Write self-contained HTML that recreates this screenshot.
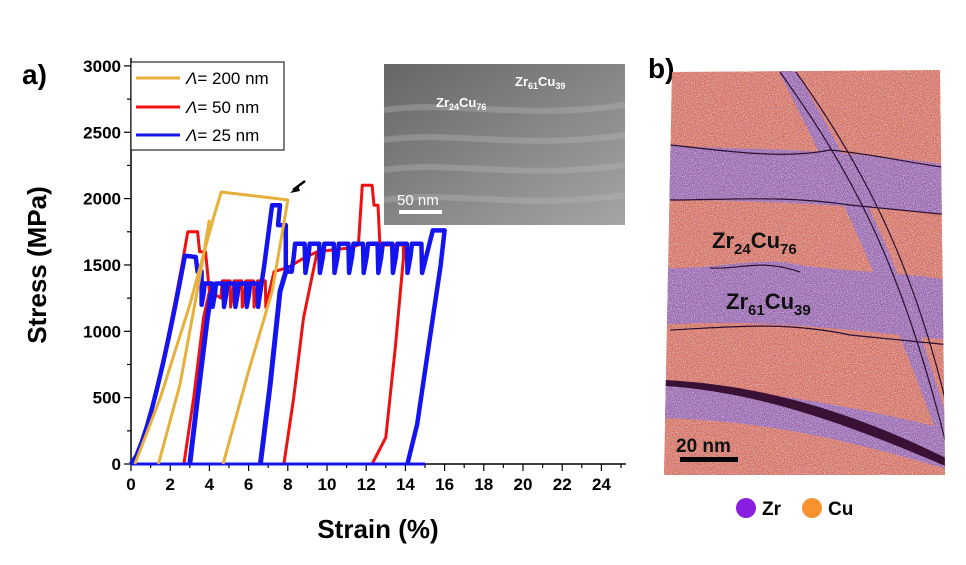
<!DOCTYPE html>
<html><head><meta charset="utf-8"><style>
body{margin:0;background:#fff;width:966px;height:560px;overflow:hidden}
svg{font-family:"Liberation Sans",Arial,sans-serif}
</style></head><body>
<svg id="s" width="966" height="560" viewBox="0 0 966 560">
<defs>
<filter id="noise" x="0" y="0" width="100%" height="100%">
<feTurbulence type="fractalNoise" baseFrequency="1.1" numOctaves="1" seed="3"/>
<feColorMatrix values="0 0 0 0 1  0 0 0 0 1  0 0 0 0 1  0 0 0 2.2 -0.85"/>
</filter>
<filter id="noise2" x="0" y="0" width="100%" height="100%">
<feTurbulence type="fractalNoise" baseFrequency="1.0" numOctaves="1" seed="7"/>
<feColorMatrix values="0 0 0 0 0.35  0 0 0 0 0.05  0 0 0 0 0.35  0 0 0 2.2 -0.9"/>
</filter>
<linearGradient id="gr" x1="0" y1="0" x2="1" y2="1"><stop offset="0" stop-color="#666"/><stop offset="1" stop-color="#a5a5a5"/></linearGradient>
<clipPath id="cp"><polygon points="672,72 940,70 945,475 664,475"/></clipPath>
</defs>
<text x="22" y="84" font-size="28" font-weight="bold">a)</text>
<text x="648" y="78" font-size="28" font-weight="bold">b)</text>
<g id="axes"></g>
<g id="curves" fill="none" stroke-linejoin="round"></g>
<rect x="131" y="62" width="153" height="88" fill="#fff" stroke="#000" stroke-width="1"/>
<line x1="136" y1="78" x2="180" y2="78" stroke="#e6b03a" stroke-width="3"/>
<line x1="136" y1="107" x2="180" y2="107" stroke="#f01010" stroke-width="3"/>
<line x1="136" y1="135" x2="180" y2="135" stroke="#1414f0" stroke-width="3"/>
<g font-size="17"><text x="186" y="84"><tspan font-style="italic">Λ</tspan>= 200 nm</text>
<text x="186" y="113"><tspan font-style="italic">Λ</tspan>= 50 nm</text>
<text x="186" y="141"><tspan font-style="italic">Λ</tspan>= 25 nm</text></g>
<rect x="384" y="64" width="241" height="161" fill="url(#gr)"/>
<g fill="none" stroke="#bbb" stroke-width="6" opacity="0.35">
<path d="M384 110 C450 100 520 120 625 105"/><path d="M384 140 C450 130 520 150 625 135"/><path d="M384 170 C450 160 520 180 625 165"/><path d="M384 200 C450 190 520 210 625 195"/></g>
<text x="515" y="86" font-size="13" fill="#fff" font-weight="bold">Zr<tspan font-size="9" dy="3">61</tspan><tspan dy="-3">Cu</tspan><tspan font-size="9" dy="3">39</tspan></text>
<text x="436" y="107" font-size="13" fill="#fff" font-weight="bold">Zr<tspan font-size="9" dy="3">24</tspan><tspan dy="-3">Cu</tspan><tspan font-size="9" dy="3">76</tspan></text>
<text x="397" y="205" font-size="15" fill="#fff">50 nm</text>
<rect x="399" y="210" width="43" height="4" fill="#fff"/>
<path d="M305 181 L293 190" stroke="#000" stroke-width="2.5"/><path d="M290 193 L298 185 L300 191Z" fill="#000"/>
<g clip-path="url(#cp)">
<rect x="660" y="68" width="290" height="410" fill="#e27a48"/>
<path d="M660 145 C720 150 800 145 950 165 L950 215 C850 205 760 200 660 200Z" fill="#8e6cb0"/>
<path d="M660 268 C720 270 760 255 800 265 C850 272 900 272 950 280 L950 340 C850 330 760 318 660 325Z" fill="#8e6cb0"/>
<path d="M660 385 C760 390 850 405 950 430 L950 470 C850 440 760 420 660 418Z" fill="#8e6cb0"/>
<path d="M778 70 L795 70 C855 170 905 270 950 430 L950 470 C900 330 855 220 778 70Z" fill="#8e6cb0"/>
<rect x="660" y="68" width="290" height="410" filter="url(#noise)" opacity="0.9"/>
<rect x="660" y="68" width="290" height="410" filter="url(#noise2)" opacity="0.9"/>
<g fill="none" stroke="#2a1030" stroke-width="1.2">
<path d="M670 145 C720 150 780 160 830 150 C880 155 920 165 950 168"/>
<path d="M670 200 C730 200 780 195 850 205 L950 215"/>
<path d="M710 268 C740 270 760 258 800 272"/>
<path d="M670 330 C720 328 780 320 850 335 L950 345"/>
<path d="M780 72 C850 170 900 260 945 440"/>
<path d="M796 72 C866 170 916 270 950 420"/>
</g>
<path d="M665 380 C760 385 850 410 950 460 L950 468 C850 425 760 392 665 386Z" fill="#3a1035"/>
</g>
<text x="712" y="248" font-size="22" font-weight="bold" fill="#111">Zr<tspan font-size="15" dy="6">24</tspan><tspan dy="-6">Cu</tspan><tspan font-size="15" dy="6">76</tspan></text>
<text x="726" y="309" font-size="22" font-weight="bold" fill="#111">Zr<tspan font-size="15" dy="6">61</tspan><tspan dy="-6">Cu</tspan><tspan font-size="15" dy="6">39</tspan></text>
<text x="676" y="452" font-size="19" font-weight="bold" fill="#111">20 nm</text>
<rect x="680" y="457" width="58" height="5" fill="#000"/>
<circle cx="746" cy="508" r="10" fill="#8a1ee0"/>
<text x="762" y="515" font-size="19" font-weight="bold">Zr</text>
<circle cx="812" cy="508" r="10" fill="#f7922e"/>
<text x="828" y="515" font-size="19" font-weight="bold">Cu</text>
<text x="378" y="538" font-size="26" font-weight="bold" text-anchor="middle">Strain (%)</text>
<text transform="translate(46,265) rotate(-90)" font-size="26" font-weight="bold" text-anchor="middle">Stress (MPa)</text>
</svg>
<script>
const NS="http://www.w3.org/2000/svg";
const X=v=>131+v*19.6, Y=v=>464-v*0.1327;
const ax=document.getElementById('axes');
let h='<line x1="131" y1="58" x2="131" y2="464" stroke="#000" stroke-width="1.5"/><line x1="131" y1="464" x2="626" y2="464" stroke="#000" stroke-width="1.5"/>';
for(let i=0;i<=25;i++){const x=X(i);h+=`<line x1="${x}" y1="464" x2="${x}" y2="${i%2?468:471}" stroke="#000" stroke-width="1.2"/>`;if(i%2==0)h+=`<text x="${x}" y="490" font-size="17" font-weight="bold" text-anchor="middle">${i}</text>`;}
for(let v=0;v<=3000;v+=250){const y=Y(v);h+=`<line x1="131" y1="${y}" x2="${v%500?127:124}" y2="${y}" stroke="#000" stroke-width="1.2"/>`;if(v%500==0)h+=`<text x="121" y="${y+6}" font-size="17" font-weight="bold" text-anchor="end">${v}</text>`;}
ax.innerHTML=h;
function serr(x0,x1,base,amp,n){const p=[];const d=(x1-x0)/n;for(let i=0;i<n;i++){const x=x0+i*d;p.push([x,base],[x+d*0.1,base+amp],[x+d*0.75,base+amp],[x+d*0.8,base-amp*1.2]);}return p;}
function curve(a,b){const p=[];for(let t=0;t<=1.0001;t+=0.1)p.push([a[0]+(b[0]-a[0])*t,a[1]+(b[1]-a[1])*Math.pow(t,1.4)]);return p;}
function draw(pts,col,w){const pa=document.createElementNS(NS,'path');pa.setAttribute('d','M'+pts.map(p=>X(p[0]).toFixed(1)+' '+Y(p[1]).toFixed(1)).join(' L'));pa.setAttribute('stroke',col);pa.setAttribute('stroke-width',w);document.getElementById('curves').appendChild(pa);}
const R='#f01010',B='#1414f0',G='#e6b03a';
draw([...curve([0,0],[2.9,1750]),[3.4,1750],[3.5,1600],[3.8,1600],[4.0,1300],[4.6,1250],...serr(4.6,7.0,1290,90,4),[7.3,1450],[8.0,1480],[8.8,1550],[9.5,1600],[11.2,1630],[11.6,1650],[11.8,2100],[12.3,2100],[12.4,1950],[12.6,1950],[12.7,1650],[13.9,1650],[13.9,1550],[13.5,900],[13.0,200],[12.3,0]],R,3);
draw([[2.7,0],[3.2,500],[3.7,1100],[4.0,1300]],R,3);
draw([[7.8,0],[8.3,500],[8.8,1100],[9.5,1600]],R,3);
draw([[0,0],[15,0]],B,3);
draw([...curve([0,0],[2.75,1570]),[3.3,1560],[3.4,1450],[3.6,1450],[3.6,1200],...serr(3.7,6.6,1280,80,5),[6.8,1500],[7.2,1950],[7.6,1950],[7.5,1800],[7.9,1800],[7.9,1450],[8.2,1450],...serr(8.3,15.0,1560,100,9),[15.4,1760],[16.0,1760],[15.8,1500],[15.2,900],[14.6,300],[14.1,0]],B,4.5);
draw([[3.0,0],[3.4,500],[3.9,1100],[4.1,1300]],B,5);
draw([[6.6,0],[7.1,600],[7.6,1300],[8.0,1500]],B,5);
draw([[0.2,0],[1.5,500],[3.0,1200],[4.2,1850],[4.6,2050],[8.0,1990],[7.9,1900],[7.2,1300],[6.0,700],[4.7,0]],G,3);
draw([[1.4,0],[2.5,600],[3.5,1400],[4.0,1840]],G,3);
</script>
</body></html>
